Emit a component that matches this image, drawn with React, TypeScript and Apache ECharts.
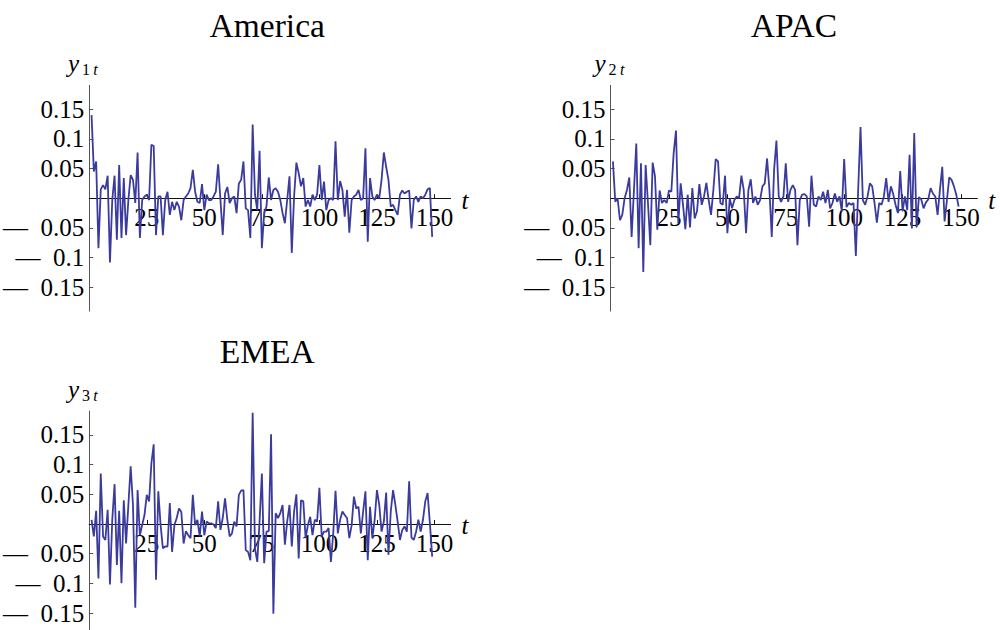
import React, { useEffect, useRef } from "react";
import * as echarts from "echarts";

// Period-by-period returns for each region, t = 1 … 149
const america = [
  0.140, 0.045, 0.062, -0.084, 0.015, 0.022, 0.015, 0.038, -0.108, -0.003,
  0.038, -0.070, 0.056, -0.067, 0.034, -0.062, -0.003, 0.039, 0.031, -0.008,
  0.077, -0.067, -0.003, 0.003, 0.006, -0.003, 0.090, 0.088, -0.062, 0.003,
  0.003, -0.062, -0.003, 0.011, -0.028, -0.006, -0.020, -0.006, -0.014, -0.037,
  -0.003, 0.003, 0.008, 0.017, 0.048, 0.011, -0.006, -0.008, 0.024, -0.020,
  0.006, -0.003, -0.003, 0.003, 0.011, 0.057, -0.003, -0.062, 0.008, 0.019,
  -0.008, 0.000, 0.003, -0.025, 0.025, 0.031, 0.062, -0.017, -0.020, -0.067,
  0.124, 0.006, -0.020, 0.080, -0.084, -0.025, -0.014, 0.035, -0.003, 0.014,
  0.017, 0.011, -0.003, -0.025, -0.042, -0.003, 0.037, -0.092, 0.003, 0.060,
  0.042, 0.020, 0.034, -0.014, -0.003, -0.014, 0.006, -0.003, 0.006, 0.056,
  -0.003, 0.028, -0.020, -0.003, 0.000, -0.003, 0.096, -0.003, 0.029, 0.014,
  -0.031, 0.014, -0.058, -0.003, 0.003, 0.006, 0.014, -0.003, 0.000, 0.084,
  -0.073, 0.034, 0.003, -0.003, 0.006, 0.000, 0.031, 0.077, 0.053, 0.031,
  -0.014, -0.011, -0.020, -0.028, 0.006, 0.013, 0.008, 0.011, 0.013, -0.051,
  -0.003, 0.003, -0.006, 0.003, 0.000, 0.006, 0.015, 0.017, -0.065,
];

const apac = [
  0.062, -0.006, 0.000, -0.037, -0.028, 0.000, 0.014, 0.035, -0.065, 0.014,
  0.092, -0.084, 0.059, -0.124, 0.056, -0.008, -0.079, 0.060, 0.037, -0.053,
  0.013, -0.008, -0.003, -0.008, 0.013, 0.011, 0.076, 0.114, -0.042, 0.025,
  -0.011, -0.052, 0.006, -0.049, 0.017, -0.034, -0.022, 0.024, -0.011,
  0.003, 0.026, -0.003, -0.028, 0.014, 0.066, 0.062, -0.008, -0.011, 0.038,
  -0.059, 0.000, -0.017, -0.003, 0.003, 0.000, 0.038, 0.014, -0.059, 0.014,
  0.032, -0.008, 0.003, -0.011, -0.003, 0.020, 0.025, 0.067, 0.014, -0.065,
  0.048, 0.097, 0.003, -0.006, 0.003, 0.059, -0.006, 0.014, 0.022, 0.014, -0.079,
  -0.003, 0.006, 0.007, 0.003, -0.048, 0.038, -0.011, -0.014, 0.003, -0.003,
  0.011, -0.008, 0.014, -0.017, -0.008, 0.008, -0.006, 0.003, -0.022, 0.066,
  -0.015, -0.008, -0.011, -0.008, -0.097, 0.014, 0.120, -0.003, -0.011, 0.003,
  0.025, 0.020, -0.008, -0.041, -0.008, -0.011, 0.003, 0.034, -0.006, 0.020, 0.007,
  -0.011, -0.025, 0.046, -0.022, 0.003, -0.020, 0.073, -0.051, 0.110, -0.049,
  0.002, -0.002, -0.017, -0.007, -0.002, 0.017, 0.008, 0.003, -0.028, 0.014,
  0.053, -0.039, -0.003, 0.035, 0.031, 0.020, 0.006, -0.014,
];

const emea = [
  0.007, -0.021, 0.022, -0.092, 0.085, -0.021, -0.027, 0.024, -0.102, 0.007,
  0.067, -0.069, 0.022, -0.100, 0.040, -0.033, 0.032, 0.097, 0.032, -0.141,
  0.057, -0.019, -0.002, 0.015, 0.049, 0.038, 0.102, 0.134, -0.094, 0.055,
  -0.002, -0.041, -0.038, -0.038, 0.035, -0.047, -0.002, 0.010, 0.026, 0.020,
  -0.033, -0.012, -0.019, -0.024, 0.049, -0.002, 0.007, -0.021, 0.021, -0.019,
  0.004, 0.001, 0.001, -0.001, -0.007, 0.038, -0.010, 0.010, 0.043, 0.007,
  -0.021, -0.016, 0.004, -0.004, 0.049, 0.056, 0.057, -0.044, -0.047, -0.061,
  0.187, -0.041, -0.064, 0.004, 0.085, -0.066, -0.013, -0.012, 0.151, -0.151, 0.018,
  0.010, 0.018, 0.032, -0.035, 0.004, 0.032, -0.038, 0.021, 0.050, -0.058,
  0.040, 0.038, -0.024, -0.002, 0.012, -0.019, 0.007, 0.004, 0.061, -0.021,
  -0.013, -0.013, -0.007, -0.064, -0.016, 0.056, -0.016, 0.007, 0.021, 0.015,
  0.010, -0.024, -0.002, 0.046, 0.026, 0.029, -0.016, 0.021, 0.055, -0.061,
  0.029, -0.024, 0.007, 0.057, 0.032, -0.013, 0.004, 0.053, -0.052, 0.021,
  0.057, 0.032, 0.004, -0.027, -0.010, -0.004, -0.013, 0.072, -0.023, -0.027,
  -0.013, 0.007, -0.013, 0.007, 0.038, 0.052, 0.001, -0.055,
];

const regions = ["America", "APAC", "EMEA"];
const seriesIndexLabels = ["1", "2", "3"];
const xTicks = [25, 50, 75, 100, 125, 150];
const yTicks = [-0.15, -0.1, -0.05, 0.05, 0.1, 0.15];

const FONT = "'Liberation Serif', 'Times New Roman', serif";
const LINE = "#3b3b9d";

// plot-area geometry of each panel (pixels); y range is symmetric, so zero sits mid-height
const PLOT_W = 366.7;
const PLOT_H = 225.7;
const panelPos = [
  { left: 83.9, top: 85.4 },
  { left: 610.6, top: 85.4 },
  { left: 83.9, top: 411.1 },
];

const fmtY = (v: number) =>
  v < 0 ? "\u2014\u2002" + String(Math.abs(v)) : String(v);

export default function App() {
  const ref = useRef<HTMLDivElement>(null);

  useEffect(() => {
    if (!ref.current) return;
    const chart = echarts.init(ref.current, undefined, { renderer: "svg" });
    const values = [america, apac, emea];

    const grid = panelPos.map((p) => ({
      left: p.left,
      top: p.top,
      width: PLOT_W,
      height: PLOT_H,
      containLabel: false,
    }));

    // x axis drawn through y = 0 (the middle of the symmetric range)
    const xAxis = panelPos.map((_, i) => ({
      gridIndex: i,
      type: "value",
      min: 0,
      max: 157,
      position: "bottom",
      offset: -PLOT_H / 2,
      axisLine: { show: true, onZero: false, lineStyle: { color: "#111", width: 1 } },
      axisTick: {
        show: true,
        inside: true,
        length: 4,
        customValues: xTicks,
        lineStyle: { color: "#111" },
      },
      axisLabel: {
        customValues: xTicks,
        fontFamily: FONT,
        fontSize: 25,
        color: "#000",
        margin: 7,
      },
      splitLine: { show: false },
    }));

    const yAxis = panelPos.map((_, i) => ({
      gridIndex: i,
      type: "value",
      min: -0.19,
      max: 0.19,
      axisLine: { show: true, onZero: false, lineStyle: { color: "#555", width: 1 } },
      axisTick: {
        show: true,
        inside: true,
        length: 4,
        customValues: yTicks,
        lineStyle: { color: "#555" },
      },
      axisLabel: {
        customValues: yTicks,
        formatter: fmtY,
        fontFamily: FONT,
        fontSize: 25,
        color: "#000",
        margin: 5,
      },
      splitLine: { show: false },
    }));

    const series = values.map((arr, i) => ({
      type: "line",
      xAxisIndex: i,
      yAxisIndex: i,
      data: arr.map((v, j) => [j + 1, v]),
      showSymbol: false,
      lineStyle: { color: LINE, width: 1.8 },
      itemStyle: { color: LINE },
    }));

    const graphic: any[] = [];
    panelPos.forEach((p, i) => {
      const zeroY = p.top + PLOT_H / 2;
      // panel title
      graphic.push({
        type: "text",
        x: p.left + PLOT_W / 2,
        y: p.top - 60,
        style: {
          text: regions[i],
          font: `33.5px ${FONT}`,
          fill: "#000",
          align: "center",
          verticalAlign: "middle",
        },
      });
      // y-axis name: y with subscript "i t"
      graphic.push({
        type: "text",
        x: p.left - 16,
        y: p.top - 22,
        style: {
          text: "y",
          font: `italic 25px ${FONT}`,
          fill: "#000",
          align: "left",
          verticalAlign: "middle",
        },
      });
      graphic.push({
        type: "text",
        x: p.left - 2,
        y: p.top - 16,
        style: {
          text: `{n|${seriesIndexLabels[i]}} {i|t}`,
          fill: "#000",
          align: "left",
          verticalAlign: "middle",
          rich: {
            n: { fontFamily: FONT, fontSize: 16, fill: "#000" },
            i: { fontFamily: FONT, fontSize: 16, fontStyle: "italic", fill: "#000" },
          },
        },
      });
      // x-axis name
      graphic.push({
        type: "text",
        x: p.left + PLOT_W + 11,
        y: zeroY + 2,
        style: {
          text: "t",
          font: `italic 25px ${FONT}`,
          fill: "#000",
          align: "left",
          verticalAlign: "middle",
        },
      });
    });

    chart.setOption({
      animation: false,
      backgroundColor: "#fff",
      grid,
      xAxis,
      yAxis,
      series,
      graphic,
    } as any);

    return () => chart.dispose();
  }, []);

  // taller than the viewport: the lower panel's axis runs past the bottom edge
  return (
    <div
      ref={ref}
      style={{ position: "absolute", left: 0, top: 0, width: 1000, height: 660 }}
    />
  );
}
